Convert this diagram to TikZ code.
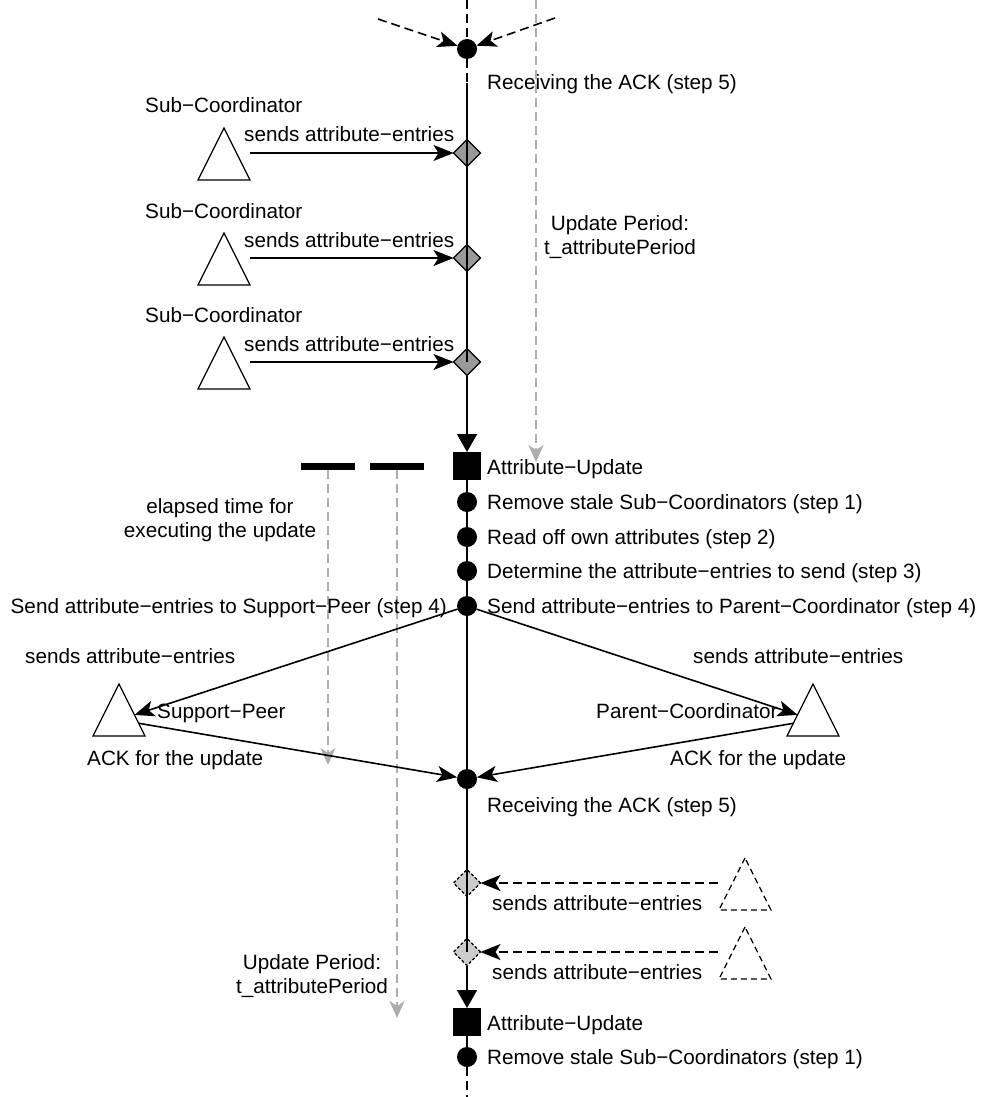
\documentclass[tikz,border=0pt]{standalone}
\usepackage{fontspec}
\setmainfont{Liberation Sans}
\usetikzlibrary{shapes.geometric,arrows.meta}
\definecolor{trackgray}{gray}{0.68}
\definecolor{entrygray}{gray}{0.6}
\definecolor{pendinggray}{gray}{0.8}

\begin{document}
\begin{tikzpicture}[x=1pt,y=-1pt,
  every node/.style={font=\fontsize{20.7}{24}\selectfont},
  flow/.style={line width=1.6pt},
  arr/.style={flow,-{Stealth[length=20pt,width=16pt,inset=5pt]}},
  darr/.style={arr,dash pattern=on 9pt off 5pt},
  garr/.style={line width=1.4pt,draw=trackgray,dash pattern=on 9pt off 5pt,
    -{Stealth[length=17pt,width=15pt,inset=5pt]}},
  downarr/.style={flow,-{Triangle[length=18pt,width=20pt]}},
  dot/.style={circle,fill=black,inner sep=0pt,outer sep=0pt,minimum size=20pt},
  event/.style={rectangle,fill=black,inner sep=0pt,outer sep=0pt,minimum size=28pt},
  entry/.style={diamond,draw=black,line width=1.2pt,fill=entrygray,inner sep=0pt,
    outer sep=0pt,minimum width=27pt,minimum height=27pt},
  pending/.style={entry,fill=pendinggray,dash pattern=on 3pt off 2pt},
  peer/.style={isosceles triangle,isosceles triangle stretches,shape border rotate=90,
    draw=black,line width=1.2pt,fill=white,inner sep=0pt,outer sep=0pt,
    minimum width=52pt,minimum height=52pt},
  ghost/.style={peer,dash pattern=on 6pt off 4pt},
  bar/.style={rectangle,fill=black,inner sep=0pt,minimum width=54pt,minimum height=7pt},
  lbl/.style={anchor=base west,inner sep=0pt},
  rlbl/.style={anchor=base east,inner sep=0pt},
  note/.style={anchor=base,align=center,inner sep=0pt},
]
\path[use as bounding box,fill=white] (0,0) rectangle (980,1097);

% ---- time line nodes ----
\node[dot] (r0) at (467,49) {};
\node[entry] (d1) at (467,153) {};
\node[entry] (d2) at (467,258) {};
\node[entry] (d3) at (467,362) {};
\node[event] (u1) at (467,466) {};
\node[dot] (c1) at (467,502) {};
\node[dot] (c2) at (467,537) {};
\node[dot] (c3) at (467,571) {};
\node[dot] (c4) at (467,606) {};
\node[dot] (r1) at (467,779) {};
\node[pending] (d4) at (467,883) {};
\node[pending] (d5) at (467,952) {};
\node[event] (u2) at (467,1022) {};
\node[dot] (c5) at (467,1057) {};
\coordinate (top) at (467,0);
\coordinate (m0) at (467,83);
\coordinate (bot) at (467,1097);

% ---- time line ----
\draw[flow,dash pattern=on 9pt off 5pt] (top) -- (r0);
\draw[flow,dash pattern=on 9pt off 5pt] (r0) -- (m0);
\draw[flow] (m0) -- (d1.center) -- (d2.center) -- (d3.center);
\draw[downarr] (d3) -- (u1);
\draw[flow] (u1) -- (c1) -- (c2) -- (c3) -- (c4) -- (r1);
\draw[flow] (r1) -- (d4.center) -- (d5.center);
\draw[downarr] (d5) -- (u2);
\draw[flow] (u2) -- (c5);
\draw[flow,dash pattern=on 9pt off 5pt] (c5) -- (bot);

% ---- incoming acknowledgements of the previous round ----
\coordinate (inl) at (378,19);
\coordinate (inr) at (555,18);
\draw[darr] (inl) -- (r0);
\draw[darr] (inr) -- (r0);
\node[lbl] (t0) at (487,90) {Receiving the ACK (step 5)};

% ---- sub-coordinators ----
\node[peer,anchor=apex] (sc1) at (224,128) {};
\node[peer,anchor=apex] (sc2) at (224,233) {};
\node[peer,anchor=apex] (sc3) at (224,337) {};
\coordinate (o1) at (250,153);
\coordinate (o2) at (250,258);
\coordinate (o3) at (250,362);
\draw[arr] (o1) -- (d1);
\draw[arr] (o2) -- (d2);
\draw[arr] (o3) -- (d3);
\node[lbl] (n1) at (145,113) {Sub−Coordinator};
\node[lbl] (n2) at (145,218) {Sub−Coordinator};
\node[lbl] (n3) at (145,322) {Sub−Coordinator};
\node[lbl] (s1) at (244,142) {sends attribute−entries};
\node[lbl] (s2) at (244,247) {sends attribute−entries};
\node[lbl] (s3) at (244,351) {sends attribute−entries};

% ---- update period (right) ----
\coordinate (p0) at (536,0);
\coordinate (p1) at (536,462);
\draw[garr] (p0) -- (p1);
\node[note] (per1) at (620,254) {Update Period:\\t\_attributePeriod};

% ---- execution time bars ----
\node[bar] (b1) at (328,466.5) {};
\node[bar] (b2) at (397,466.5) {};
\coordinate (b1e) at (328,765);
\coordinate (b2e) at (397,1018);
\draw[garr] (b1) -- (b1e);
\draw[garr] (b2) -- (b2e);
\node[note] (el) at (220,537) {elapsed time for\\executing the update};

% ---- steps ----
\node[lbl] (t1) at (487,474) {Attribute−Update};
\node[lbl] (t2) at (487,509) {Remove stale Sub−Coordinators (step 1)};
\node[lbl] (t3) at (487,544) {Read off own attributes (step 2)};
\node[lbl] (t4) at (487,578) {Determine the attribute−entries to send (step 3)};
\node[lbl] (t5) at (487,613) {Send attribute−entries to Parent−Coordinator (step 4)};
\node[rlbl] (t6) at (447,613) {Send attribute−entries to Support−Peer (step 4)};

% ---- support peer and parent coordinator ----
\node[peer,anchor=apex] (sp) at (119,684) {};
\node[peer,anchor=apex] (pc) at (813,684) {};
\draw[arr] (c4) -- (sp);
\draw[arr] (sp) -- (r1);
\draw[arr] (c4) -- (pc);
\draw[arr] (pc) -- (r1);
\node[lbl] (sa) at (25,663) {sends attribute−entries};
\node[lbl] (sb) at (693,663) {sends attribute−entries};
\node[lbl] (spn) at (157,718) {Support−Peer};
\node[lbl] (pcn) at (596,718) {Parent−Coordinator};
\node[lbl] (aa) at (87,765) {ACK for the update};
\node[lbl] (ab) at (670,765) {ACK for the update};
\node[lbl] (t7) at (487,812) {Receiving the ACK (step 5)};

% ---- next round ----
\node[ghost,anchor=apex] (g1) at (745,858) {};
\node[ghost,anchor=apex] (g2) at (745,927) {};
\coordinate (o4) at (718,883);
\coordinate (o5) at (718,952);
\draw[darr] (o4) -- (d4);
\draw[darr] (o5) -- (d5);
\node[lbl] (s4) at (492,910) {sends attribute−entries};
\node[lbl] (s5) at (492,979) {sends attribute−entries};
\node[note] (per2) at (312,993) {Update Period:\\t\_attributePeriod};
\node[lbl] (t8) at (487,1030) {Attribute−Update};
\node[lbl] (t9) at (487,1064) {Remove stale Sub−Coordinators (step 1)};
\end{tikzpicture}
\end{document}
